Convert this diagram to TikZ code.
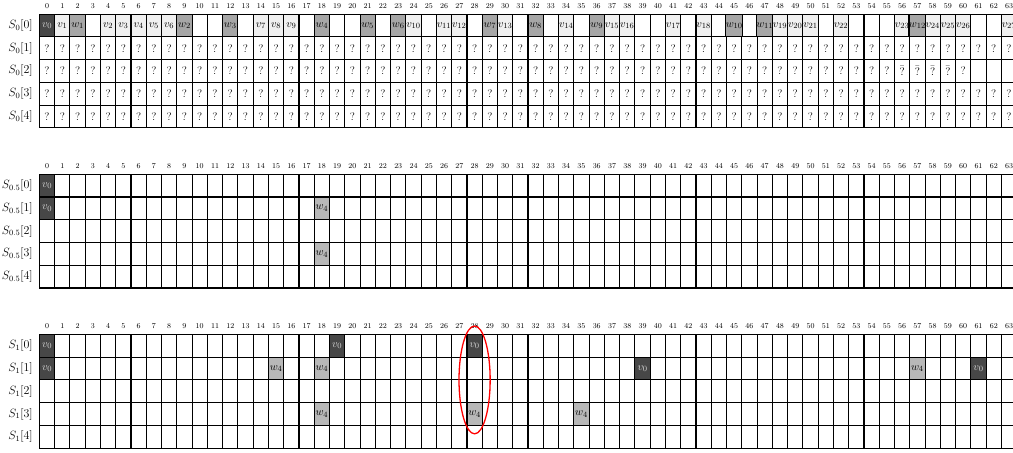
\documentclass[tikz,border=0pt]{standalone}
\usepackage{amsmath,amssymb}
\usepackage{xcolor}
\usetikzlibrary{positioning}

\begin{document}
\begin{tikzpicture}[x=15.27pt,y=-22.75pt,
  gridline/.style={draw=black,line width=1.1pt},
  slot/.style={draw=black,line width=1.1pt,minimum width=15.27pt,minimum height=22.75pt,inner sep=0pt,font=\fontsize{11}{12}\selectfont},
  dark/.style={slot,fill=black!72,text=black!15},
  pale/.style={slot,fill=black!6},
  mid/.style={slot,fill=black!35},
  lite/.style={slot,fill=black!28},
  qmark/.style={inner sep=0pt,font=\fontsize{11}{12}\selectfont},
  colnum/.style={inner sep=0pt,font=\fontsize{7.5}{8}\selectfont},
  rowlab/.style={inner sep=0pt,anchor=east,font=\fontsize{12}{14}\selectfont}]
\useasboundingbox (-2.58,-0.62) rectangle (63.76,19.29);
% three grids of 5 rows x 64 slots
\foreach \g/\yo/\idx in {0/0/0,1/7.04/0.5,2/14.08/1} {
  \foreach \r in {0,...,4} {
    \node[rowlab] (lab\g-\r) at (-0.42,\yo+\r+0.5) {$S_{\idx}[\r]$};
    \foreach \c in {0,...,63}
      \draw[gridline] (\c,\yo+\r) rectangle ++(1,1);
  }
  \foreach \c in {0,...,63}
    \node[colnum] (num\g-\c) at (\c+0.5,\yo-0.37) {\c};
}
% S_0
\foreach \c/\txt/\k in {0/v_0/dark,1/v_1/pale,2/w_1/mid,4/v_2/pale,5/v_3/pale,6/v_4/pale,7/v_5/pale,8/v_6/pale,9/w_2/mid,12/w_3/mid,14/v_7/pale,15/v_8/pale,16/v_9/pale,18/w_4/mid,21/w_5/mid,23/w_6/mid,24/v_{10}/pale,26/v_{11}/pale,27/v_{12}/pale,29/w_7/mid,30/v_{13}/pale,32/w_8/mid,34/v_{14}/pale,36/w_9/mid,37/v_{15}/pale,38/v_{16}/pale,41/v_{17}/pale,43/v_{18}/pale,45/w_{10}/mid,47/w_{11}/mid,48/v_{19}/pale,49/v_{20}/pale,50/v_{21}/pale,52/v_{22}/pale,56/v_{23}/pale,57/w_{12}/mid,58/v_{24}/pale,59/v_{25}/pale,60/v_{26}/pale,63/v_{27}/pale}
  \node[\k] (top-\c) at (\c+0.5,0.5) {$\txt$};
\foreach \r in {1,3,4}
  \foreach \c in {0,...,63}
    \node[qmark] (q\r-\c) at (\c+0.5,\r+0.5) {?};
\foreach \c in {0,...,55,60,...,63}
  \node[qmark] (q2-\c) at (\c+0.5,2.5) {?};
\foreach \c in {56,...,59}
  \node[qmark] (q2-\c) at (\c+0.5,2.5) {$\bar{?}$};
% S_0.5
\foreach \r/\c/\k/\txt in {0/0/dark/v_0,1/0/dark/v_0,1/18/lite/w_4,3/18/lite/w_4}
  \node[\k] (half\r-\c) at (\c+0.5,7.04+\r+0.5) {$\txt$};
% S_1
\foreach \r/\c/\k/\txt in {0/0/dark/v_0,0/19/dark/v_0,0/28/dark/v_0,1/0/dark/v_0,1/39/dark/v_0,1/61/dark/v_0,1/15/lite/w_4,1/18/lite/w_4,1/57/lite/w_4,3/18/lite/w_4,3/28/lite/w_4,3/35/lite/w_4}
  \node[\k] (one\r-\c) at (\c+0.5,14.08+\r+0.5) {$\txt$};
\coordinate (focus) at (28.5,16.08);
\draw[red,line width=1.3pt] (focus) ellipse (1.02 and 2.37);
\end{tikzpicture}
\end{document}
